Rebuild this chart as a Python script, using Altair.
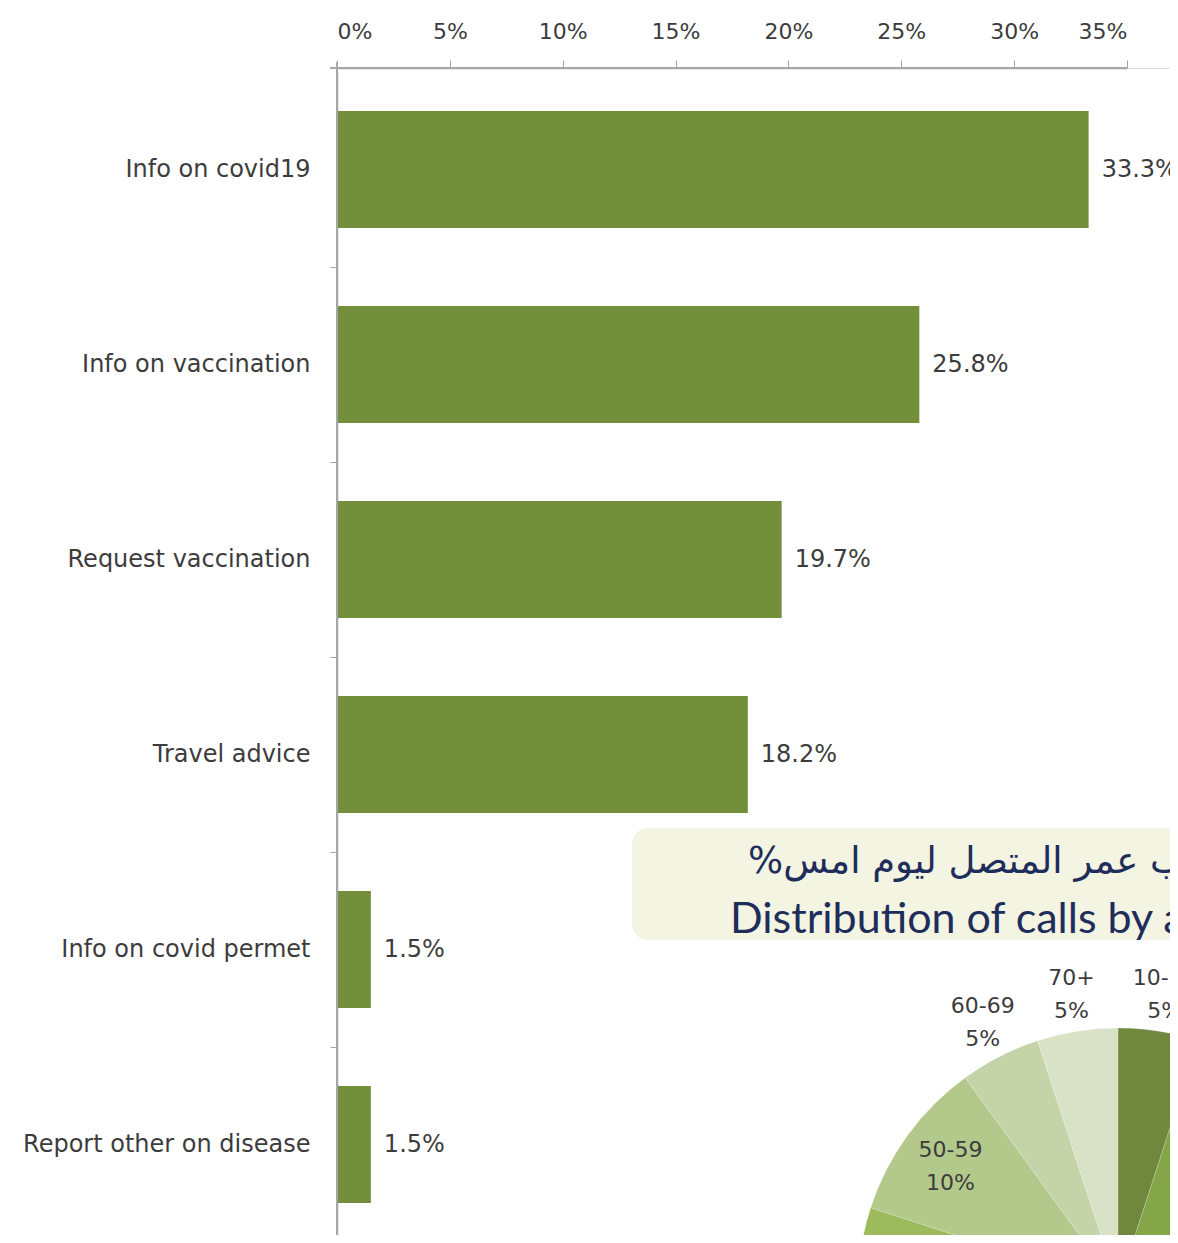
import altair as alt
import pandas as pd

# ---- data ----
categories = ["Info on covid19", "Info on vaccination", "Request vaccination",
              "Travel advice", "Info on covid permet", "Report other on disease"]
shares = [33.3, 25.8, 19.7, 18.2, 1.5, 1.5]
x_ticks = [0, 5, 10, 15, 20, 25, 30, 35]

ages = ["10-19", "20-29", "30-39", "40-49", "50-59", "60-69", "70+"]
age_pct = [5, 25, 30, 20, 10, 5, 5]
age_colors = ["#6F883D", "#84A548", "#8FB352", "#9BBB5C", "#B3C98C", "#C5D3A9", "#D9E2C6"]

title_ar = "%توزيع المكالمات حسب عمر المتصل ليوم امس"
title_en = "Distribution of calls by age of caller yesterday"

bars_df = pd.DataFrame({"cat": categories, "pct": shares})
pie_df = pd.DataFrame({"age": ages, "pct": age_pct, "ord": list(range(len(ages)))})
title_df = pd.DataFrame({"ar": [title_ar], "en": [title_en]})

AX = "#A6A6A6"
TXT = "#3C3C3C"
FONT = "DejaVu Sans"

xscale = alt.Scale(domain=[0, 35], range=[0, 790])
yscale = alt.Scale(domain=categories, range=[4, 1174], paddingInner=0.4, paddingOuter=0.2)

base = alt.Chart(bars_df)

bars = base.mark_bar(color="#738F3B").encode(
    x=alt.X("pct:Q", scale=xscale,
            axis=alt.Axis(orient="top", values=x_ticks, labelExpr="datum.value + '%'",
                          grid=False, title=None, domainColor=AX, tickColor=AX,
                          tickSize=8, labelPadding=17, labelFontSize=22,
                          labelColor=TXT, labelFont=FONT, domainWidth=1.5)),
    y=alt.Y("cat:N", sort=categories, scale=yscale,
            axis=alt.Axis(title=None, tickOffset=97.5, labelOffset=-97.5,
                          domainColor=AX, tickColor=AX,
                          tickSize=7, labelPadding=20, labelFontSize=24,
                          labelColor=TXT, labelFont=FONT, domainWidth=1.5,
                          labelLimit=400)),
)

yline = base.mark_rule(color=AX, strokeWidth=1.5).encode(
    x=alt.value(0), y=alt.value(-6), y2=alt.value(1180))
xline = base.mark_rule(color=AX, strokeWidth=1.5).encode(
    x=alt.value(-7), x2=alt.value(790), y=alt.value(0))

vals = base.mark_text(align="left", dx=13, fontSize=24, color=TXT, font=FONT).encode(
    x=alt.X("pct:Q", scale=xscale),
    y=alt.Y("cat:N", sort=categories, scale=yscale),
    text="lbl:N",
).transform_calculate(lbl="format(datum.pct, '.1f') + '%'")

tbase = alt.Chart(title_df)
box = tbase.mark_rect(color="#F3F4E2", cornerRadius=16).encode(
    x=alt.value(295), x2=alt.value(1000), y=alt.value(760), y2=alt.value(872))
ar_text = tbase.mark_text(align="left", baseline="alphabetic", fontSize=37,
                          color="#1F2D5A", font=FONT).encode(
    x=alt.value(411), y=alt.value(805), text="ar:N")
en_text = tbase.mark_text(align="left", baseline="alphabetic", fontSize=43,
                          color="#1F2D5A", font="Lato").encode(
    x=alt.value(393), y=alt.value(865), text="en:N")

pbase = alt.Chart(pie_df)
pie = pbase.mark_arc(radius=260, stroke="#FFFFFF", strokeWidth=0.6, strokeOpacity=0.3).encode(
    theta=alt.Theta("pct:Q", stack=True),
    order=alt.Order("ord:Q"),
    color=alt.Color("age:N", sort=ages,
                    scale=alt.Scale(domain=ages, range=age_colors), legend=None),
    x=alt.value(781), y=alt.value(1220),
)
plabels = pbase.mark_text(fontSize=22, color=TXT, font=FONT, lineBreak="\n",
                          lineHeight=33, baseline="middle", dy=-16).encode(
    theta=alt.Theta("mid:Q", scale=None),
    radius=alt.Radius("r:Q", scale=None),
    text="lbl:N",
    x=alt.value(781), y=alt.value(1220),
).transform_joinaggregate(
    total="sum(pct)"
).transform_window(
    cum="sum(pct)", sort=[alt.SortField("ord")], frame=[None, 0]
).transform_calculate(
    mid="(datum.cum - datum.pct / 2) / datum.total * 2 * PI",
    lbl="datum.age + '\\n' + datum.pct + '%'",
    r="datum.pct <= 5 ? 298 : 207",
)

chart = alt.layer(bars, yline, xline, vals, box, ar_text, en_text, pie, plabels).properties(
    width=833, height=1167,
    autosize=alt.AutoSizeParams(type="none"),
    padding={"left": 329, "top": 60, "right": 0, "bottom": 0},
).configure_view(stroke=None).configure(background="#FFFFFF")

chart.save("out.html", embed_options={"renderer": "svg", "actions": False})
